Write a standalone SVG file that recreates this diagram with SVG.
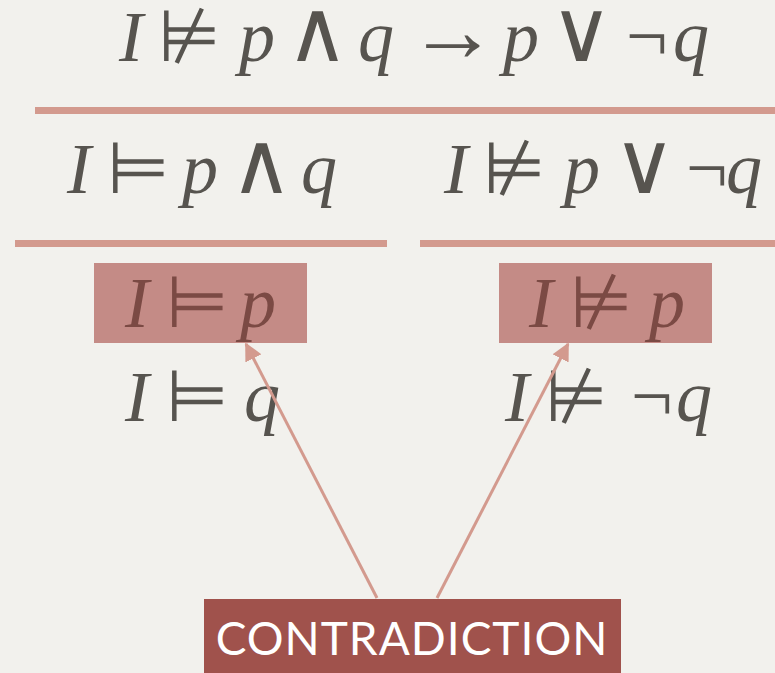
<svg xmlns="http://www.w3.org/2000/svg" width="775" height="673" viewBox="0 0 775 673">
<defs>
<style>
.m{font-family:"Liberation Serif",serif;font-size:72px;fill:#57544f}
.i{font-style:italic}
.s{font-family:"DejaVu Sans",sans-serif;font-size:72px}
.w{font-family:"DejaVu Sans",sans-serif;font-size:86px}
.n{font-size:74px}
.a{font-family:"Liberation Sans",sans-serif;font-size:90px}
.in{fill:#7b4a44}
.rule{fill:#d39a8e}
.hl{fill:#c48b86}
.conn{stroke:#d39a8e;stroke-width:3;fill:none}
</style>
<marker id="ah" viewBox="0 0 10 10" refX="9" refY="5" markerWidth="6" markerHeight="6" orient="auto" markerUnits="strokeWidth">
<path d="M0,0 L10,5 L0,10 z" fill="#d39a8e"/>
</marker>
</defs>
<rect width="775" height="673" fill="#f2f1ed"/>
<g id="conclusion">
<text class="m" y="61"><tspan class="i" x="119">I</tspan><tspan class="s" x="158">⊭</tspan><tspan class="i" x="239">p</tspan><tspan class="w" x="286">∧</tspan><tspan class="i" x="358">q</tspan><tspan class="a" x="408">→</tspan><tspan class="i" x="503">p</tspan><tspan class="w" x="550">∨</tspan><tspan class="n" x="626">¬</tspan><tspan class="i" x="673">q</tspan></text>
</g>
<g id="rule1"><rect class="rule" x="35" y="107" width="740" height="7"/></g>
<g id="left-premise">
<text class="m" y="193"><tspan class="i" x="67">I</tspan><tspan class="s" x="107">⊨</tspan><tspan class="i" x="182">p</tspan><tspan class="w" x="230">∧</tspan><tspan class="i" x="301">q</tspan></text>
</g>
<g id="right-premise">
<text class="m" y="193"><tspan class="i" x="444">I</tspan><tspan class="s" x="483">⊭</tspan><tspan class="i" x="564">p</tspan><tspan class="w" x="613">∨</tspan><tspan class="n" x="686">¬</tspan><tspan class="i" x="726">q</tspan></text>
</g>
<g id="rule2"><rect class="rule" x="15" y="240" width="372" height="7"/><rect class="rule" x="420" y="240" width="355" height="7"/></g>
<g id="left-p">
<rect class="hl" x="94" y="263" width="213" height="80"/>
<text class="m in" y="327"><tspan class="i" x="125">I</tspan><tspan class="s" x="166">⊨</tspan><tspan class="i" x="240">p</tspan></text>
</g>
<g id="right-p">
<rect class="hl" x="499" y="263" width="213" height="80"/>
<text class="m in" y="327"><tspan class="i" x="529">I</tspan><tspan class="s" x="570">⊭</tspan><tspan class="i" x="649">p</tspan></text>
</g>
<g id="left-q">
<text class="m" y="421"><tspan class="i" x="125">I</tspan><tspan class="s" x="166">⊨</tspan><tspan class="i" x="244">q</tspan></text>
</g>
<g id="right-q">
<text class="m" y="421"><tspan class="i" x="505">I</tspan><tspan class="s" x="545">⊭</tspan><tspan class="n" x="631">¬</tspan><tspan class="i" x="676">q</tspan></text>
</g>
<g id="connectors">
<line class="conn" x1="377" y1="598" x2="246" y2="344" marker-end="url(#ah)"/>
<line class="conn" x1="437" y1="598" x2="568" y2="344" marker-end="url(#ah)"/>
</g>
<g id="contradiction">
<rect x="204" y="599" width="417" height="74" fill="#a0524c"/>
<text x="412" y="655" text-anchor="middle" font-family="Lato, 'Noto Sans', sans-serif" font-size="46" fill="#ffffff" letter-spacing="1">CONTRADICTION</text>
</g>
</svg>
